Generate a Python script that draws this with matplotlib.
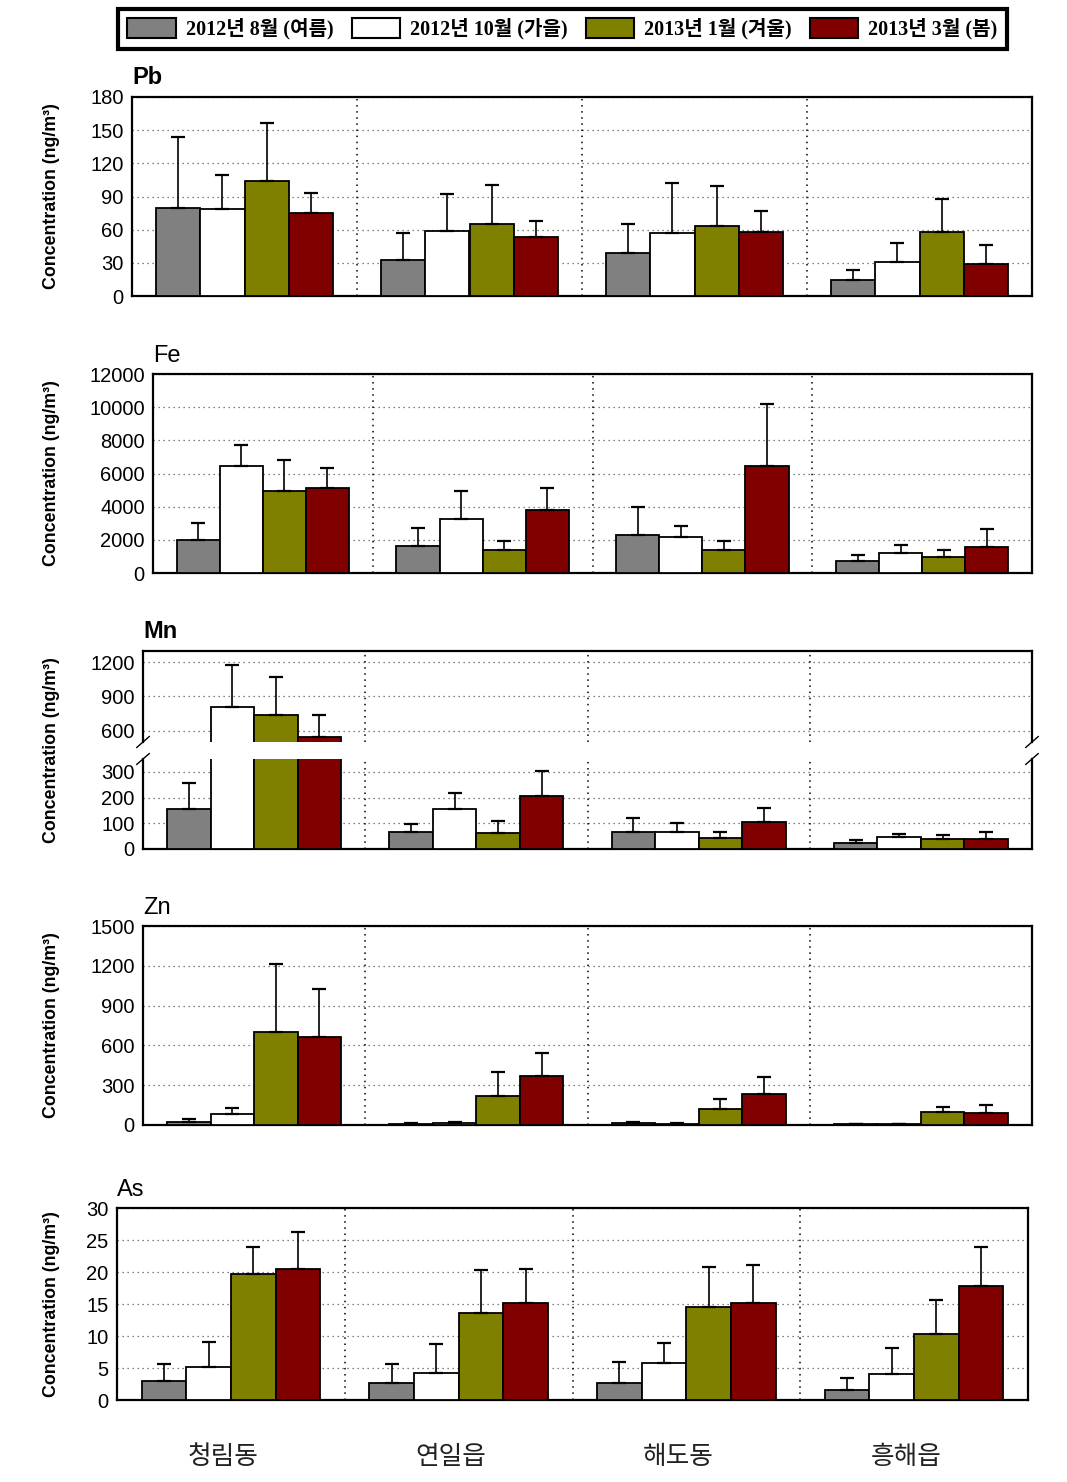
import matplotlib
matplotlib.use("Agg")
import matplotlib.pyplot as plt
import numpy as np
from matplotlib.patches import Patch
from matplotlib.font_manager import FontProperties
import matplotlib.transforms as mtransforms

plt.rcParams['font.family'] = ['Liberation Sans', 'Noto Sans CJK KR', 'DejaVu Sans']

sites = ['청림동', '연일읍', '해도동', '흥해읍']
seasons = ['2012년 8월 (여름)', '2012년 10월 (가을)', '2013년 1월 (겨울)', '2013년 3월 (봄)']
colors = ['#808080', '#ffffff', '#808000', '#800000']

# rows = seasons, columns = sites
pb_mean = [[80, 33, 39, 14.5], [78.6, 59, 57, 31], [103.6, 64.7, 63.5, 58], [74.7, 53, 58, 29]]
pb_upper = [[143.6, 57, 65, 23.5], [109, 92, 102, 48], [156.6, 100, 99.5, 88], [93, 67.7, 77, 46]]

fe_mean = [[1970, 1628, 2312, 703], [6432, 3276, 2151, 1186], [4925, 1367, 1367, 985], [5106, 3779, 6432, 1548]]
fe_upper = [[2995, 2693, 3960, 1105], [7698, 4925, 2814, 1668], [6794, 1950, 1910, 1367], [6332, 5106, 10191, 2633]]

mn_mean = [[156, 68, 68, 25], [806, 154, 68, 48], [741, 63, 42, 40], [544, 206, 106, 40]]
mn_upper = [[255, 97, 122, 36], [1179, 217, 101, 60], [1073, 109, 67, 56], [735, 305, 160, 67]]

zn_mean = [[25, 10, 15, 5], [80, 15, 8, 8], [704, 218, 120, 97], [661, 368, 233, 90]]
zn_upper = [[45, 14, 22, 7], [128, 25, 12, 11], [1212, 397, 193, 135], [1022, 541, 360, 150]]

as_mean = [[3.0, 2.7, 2.7, 1.6], [5.2, 4.2, 5.8, 4.1], [19.7, 13.6, 14.6, 10.3], [20.4, 15.1, 15.2, 17.8]]
as_upper = [[5.7, 5.6, 5.9, 3.5], [9.1, 8.7, 8.9, 8.2], [23.9, 20.3, 20.8, 15.6], [26.2, 20.4, 21.1, 23.9]]

W, H = 1067, 1482
fig = plt.figure(figsize=(W / 100, H / 100), dpi=100)


def rect(l, t, r, b):
    return [l / W, 1 - b / H, (r - l) / W, (b - t) / H]


BW = 0.196
x0 = np.arange(len(sites))


def draw_bars(ax, mean, upper):
    for i in range(4):
        m = np.array(mean[i], float)
        u = np.array(upper[i], float)
        xs = x0 + (i - 1.5) * BW
        ax.bar(xs, m, width=BW, color=colors[i], edgecolor='k', linewidth=1.3, zorder=3)
        ax.errorbar(xs, m, yerr=[np.zeros_like(m), u - m], fmt='none', ecolor='k',
                    elinewidth=1.2, capsize=5, capthick=1.6, zorder=4)


def style(ax, ymin, ymax, step, ticks=None):
    ax.set_xlim(-0.5, 3.5)
    ax.set_ylim(ymin, ymax)
    if ticks is None:
        ticks = np.arange(ymin, ymax + step / 2, step)
    ax.set_yticks(ticks)
    ax.yaxis.grid(True, linestyle=(0, (1, 3)), color='0.35', linewidth=0.9, zorder=0)
    for xv in [0.5, 1.5, 2.5]:
        ax.axvline(xv, linestyle=(0, (1, 3)), color='k', linewidth=1.1, zorder=1)
    ax.set_xticks([])
    ax.tick_params(axis='y', length=0, pad=6, labelsize=14.5)
    for s in ax.spines.values():
        s.set_linewidth(1.6)
    ax.set_axisbelow(True)


def ylabel(yc):
    fig.text(52 / W, 1 - yc / H, 'Concentration (ng/m³)', rotation=90, ha='center', va='center',
             fontsize=12.8, fontweight='bold')


# Pb
ax = fig.add_axes(rect(132, 97, 1032, 296))
draw_bars(ax, pb_mean, pb_upper)
style(ax, 0, 180, 30)
ax.set_title('Pb', loc='left', fontsize=17, fontweight='bold', pad=9)
ylabel(196)

# Fe
ax = fig.add_axes(rect(153, 374, 1032, 573))
draw_bars(ax, fe_mean, fe_upper)
style(ax, 0, 12000, 2000)
ax.set_title('Fe', loc='left', fontsize=17, pad=9)
ylabel(473)

# Mn (broken axis)
axu = fig.add_axes(rect(143, 651, 1032, 742))
axl = fig.add_axes(rect(143, 759, 1032, 849))
draw_bars(axu, mn_mean, mn_upper)
draw_bars(axl, mn_mean, mn_upper)
style(axu, 500, 1300, 300, ticks=[600, 900, 1200])
style(axl, 0, 350, 100, ticks=[0, 100, 200, 300])
axu.spines['bottom'].set_visible(False)
axl.spines['top'].set_visible(False)
axu.set_title('Mn', loc='left', fontsize=17, fontweight='bold', pad=9)
for a, yy in [(axu, 0.0), (axl, 1.0)]:
    for xx in [0.0, 1.0]:
        a.plot([xx - 0.007, xx + 0.007], [yy - 0.06, yy + 0.06], transform=a.transAxes,
               color='k', lw=1.0, clip_on=False, zorder=6)
ylabel(750)

# Zn
ax = fig.add_axes(rect(143, 926, 1032, 1125))
draw_bars(ax, zn_mean, zn_upper)
style(ax, 0, 1500, 300)
ax.set_title('Zn', loc='left', fontsize=17, pad=9)
ylabel(1025)

# As
ax = fig.add_axes(rect(117, 1208, 1028, 1400))
draw_bars(ax, as_mean, as_upper)
style(ax, 0, 30, 5)
ax.set_title('As', loc='left', fontsize=17, pad=9)
ax.set_xticks(x0)
ax.set_xticklabels(sites, fontsize=18.5, family=['Noto Sans CJK KR'], color='#222222')
ax.tick_params(axis='x', length=0, pad=32)
off = mtransforms.ScaledTranslation(-8 / 100, 0, fig.dpi_scale_trans)
for lab in ax.get_xticklabels():
    lab.set_transform(lab.get_transform() + off)
ylabel(1304)

# Legend
handles = [Patch(facecolor=c, edgecolor='k', linewidth=1.5) for c in colors]
leg = fig.legend(handles, seasons, loc='upper center', bbox_to_anchor=(562.5 / W, 1 - 9 / H), ncol=4,
                 frameon=True, fancybox=False, edgecolor='k', framealpha=1,
                 prop=FontProperties(family=['Liberation Serif', 'Noto Sans CJK KR'], weight='bold', size=14.5),
                 handlelength=2.4, handleheight=1.15, columnspacing=0.9, handletextpad=0.5,
                 borderpad=0.45, borderaxespad=0)
leg.get_frame().set_linewidth(3)

fig.savefig('out.png', dpi=100)
